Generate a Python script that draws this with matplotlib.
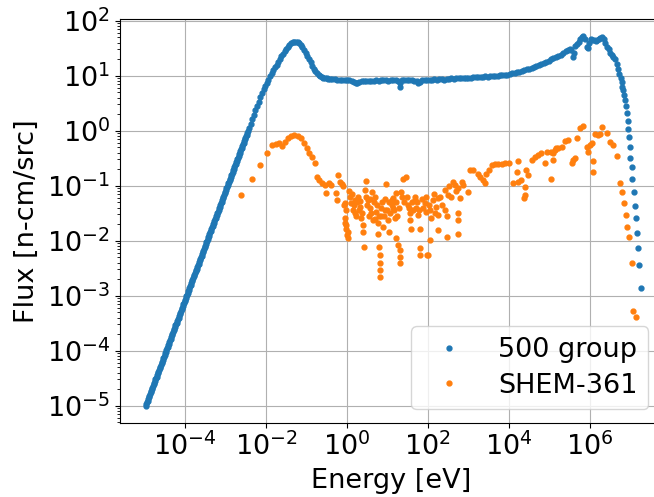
import numpy as np
import matplotlib
matplotlib.use("Agg")
import matplotlib.pyplot as plt
from matplotlib import ticker

# values are read off the log-log picture as decade exponents (log10)
# 500 group: energy exponent [log10 eV], flux exponent [log10 n-cm/src]
log_energy_500 = [
    -4.970, -4.955, -4.940, -4.925, -4.910, -4.895, -4.880, -4.865, -4.850, -4.835,
    -4.820, -4.805, -4.790, -4.775, -4.760, -4.745, -4.730, -4.715, -4.700, -4.685,
    -4.670, -4.655, -4.640, -4.625, -4.610, -4.595, -4.580, -4.565, -4.550, -4.535,
    -4.520, -4.505, -4.490, -4.475, -4.460, -4.445, -4.430, -4.415, -4.400, -4.385,
    -4.370, -4.355, -4.340, -4.325, -4.310, -4.295, -4.280, -4.265, -4.250, -4.235,
    -4.220, -4.205, -4.190, -4.175, -4.160, -4.145, -4.130, -4.115, -4.100, -4.085,
    -4.070, -4.055, -4.040, -4.025, -4.010, -3.995, -3.980, -3.965, -3.950, -3.935,
    -3.920, -3.905, -3.890, -3.875, -3.860, -3.845, -3.830, -3.815, -3.800, -3.785,
    -3.770, -3.755, -3.740, -3.725, -3.710, -3.695, -3.680, -3.665, -3.650, -3.635,
    -3.620, -3.605, -3.590, -3.575, -3.560, -3.545, -3.530, -3.515, -3.500, -3.485,
    -3.470, -3.455, -3.440, -3.425, -3.410, -3.395, -3.380, -3.365, -3.350, -3.335,
    -3.320, -3.305, -3.290, -3.275, -3.260, -3.245, -3.230, -3.215, -3.200, -3.185,
    -3.170, -3.155, -3.140, -3.125, -3.110, -3.095, -3.080, -3.065, -3.050, -3.035,
    -3.020, -3.005, -2.990, -2.975, -2.960, -2.945, -2.930, -2.915, -2.900, -2.885,
    -2.870, -2.855, -2.840, -2.825, -2.810, -2.795, -2.780, -2.765, -2.750, -2.735,
    -2.720, -2.705, -2.690, -2.675, -2.660, -2.645, -2.630, -2.615, -2.600, -2.585,
    -2.570, -2.555, -2.540, -2.525, -2.510, -2.495, -2.480, -2.465, -2.450,
    -2.42, -2.38, -2.34, -2.30, -2.26, -2.22, -2.18, -2.14, -2.10, -2.06,
    -2.02, -1.98, -1.94, -1.90, -1.86, -1.82, -1.78, -1.74, -1.70, -1.66,
    -1.62, -1.58, -1.54, -1.50, -1.46, -1.42, -1.38, -1.34, -1.30, -1.26,
    -1.22, -1.18, -1.14, -1.10, -1.06, -1.02, -0.98, -0.94, -0.90, -0.86,
    -0.82, -0.78, -0.74, -0.70, -0.66, -0.62, -0.58, -0.54, -0.50, -0.46,
    -0.42, -0.36, -0.30, -0.24, -0.18, -0.12, -0.06, 0.00, 0.06, 0.12,
    0.18, 0.22, 0.26, 0.30, 0.36, 0.42, 0.48, 0.54, 0.60, 0.66,
    0.72, 0.78, 0.84, 0.90, 0.96, 1.02, 1.08, 1.14, 1.20, 1.26,
    1.30, 1.32, 1.36, 1.42, 1.48, 1.54, 1.60, 1.66, 1.72, 1.76,
    1.80, 1.86, 1.92, 1.98, 2.04, 2.10, 2.16, 2.22, 2.28, 2.34,
    2.40, 2.46, 2.52, 2.58, 2.64, 2.70, 2.76, 2.82, 2.88, 2.94,
    3.00, 3.06, 3.12, 3.18, 3.24, 3.30, 3.36, 3.42, 3.48, 3.54,
    3.60, 3.66, 3.72, 3.78, 3.84, 3.90, 3.96, 4.02, 4.08, 4.14,
    4.20, 4.26, 4.32, 4.38, 4.44, 4.50, 4.56, 4.62, 4.68, 4.74,
    4.80, 4.86, 4.92, 4.98, 5.04, 5.10, 5.16, 5.22, 5.28, 5.34,
    5.40, 5.46, 5.50, 5.54, 5.58, 5.60, 5.64, 5.68, 5.72, 5.76,
    5.80, 5.84, 5.88, 5.92, 5.95, 5.98, 6.02, 6.06, 6.10, 6.14,
    6.18, 6.22, 6.26, 6.30, 6.34, 6.38, 6.42, 6.46, 6.50, 6.54,
    6.58, 6.62, 6.66, 6.70, 6.73, 6.76, 6.78, 6.80, 6.82, 6.84,
    6.87, 6.89, 6.91, 6.93, 6.94, 6.96, 6.99, 7.00, 7.03, 7.05,
    7.09, 7.12, 7.14, 7.17, 7.19, 7.22, 7.25,
]
log_flux_500 = [
    -5.00, -4.97, -4.94, -4.91, -4.88, -4.85, -4.82, -4.79, -4.76, -4.73,
    -4.70, -4.67, -4.64, -4.61, -4.58, -4.55, -4.52, -4.50, -4.47, -4.44,
    -4.41, -4.38, -4.35, -4.32, -4.29, -4.26, -4.23, -4.20, -4.17, -4.14,
    -4.11, -4.08, -4.05, -4.02, -3.99, -3.96, -3.93, -3.90, -3.87, -3.84,
    -3.81, -3.78, -3.75, -3.72, -3.69, -3.66, -3.63, -3.60, -3.57, -3.54,
    -3.52, -3.49, -3.46, -3.43, -3.40, -3.37, -3.34, -3.31, -3.28, -3.25,
    -3.22, -3.19, -3.16, -3.13, -3.10, -3.07, -3.04, -3.01, -2.98, -2.95,
    -2.92, -2.89, -2.86, -2.83, -2.80, -2.77, -2.74, -2.71, -2.68, -2.65,
    -2.62, -2.59, -2.56, -2.53, -2.51, -2.48, -2.45, -2.42, -2.39, -2.36,
    -2.33, -2.30, -2.27, -2.24, -2.21, -2.18, -2.15, -2.12, -2.09, -2.06,
    -2.03, -2.00, -1.97, -1.94, -1.91, -1.88, -1.85, -1.82, -1.79, -1.76,
    -1.73, -1.70, -1.67, -1.64, -1.61, -1.58, -1.55, -1.53, -1.50, -1.47,
    -1.44, -1.41, -1.38, -1.35, -1.32, -1.29, -1.26, -1.23, -1.20, -1.17,
    -1.14, -1.11, -1.08, -1.05, -1.02, -0.99, -0.96, -0.93, -0.90, -0.87,
    -0.84, -0.81, -0.78, -0.75, -0.72, -0.69, -0.66, -0.63, -0.60, -0.57,
    -0.55, -0.52, -0.49, -0.46, -0.43, -0.40, -0.37, -0.34, -0.31, -0.28,
    -0.25, -0.22, -0.19, -0.16, -0.13, -0.10, -0.07, -0.04, -0.01,
    0.05, 0.13, 0.21, 0.29, 0.37, 0.45, 0.53, 0.61, 0.68, 0.75,
    0.81, 0.87, 0.93, 0.99, 1.05, 1.10, 1.15, 1.20, 1.25, 1.30,
    1.35, 1.39, 1.44, 1.48, 1.52, 1.56, 1.59, 1.61, 1.62, 1.62,
    1.61, 1.59, 1.56, 1.52, 1.47, 1.42, 1.36, 1.30, 1.24, 1.18,
    1.13, 1.08, 1.04, 1.01, 0.99, 0.97, 0.96, 0.955, 0.95, 0.945,
    0.945, 0.94, 0.935, 0.93, 0.93, 0.925, 0.92, 0.92, 0.915, 0.90,
    0.88, 0.86, 0.87, 0.89, 0.90, 0.905, 0.91, 0.90, 0.91, 0.905,
    0.915, 0.91, 0.92, 0.915, 0.92, 0.91, 0.92, 0.915, 0.92, 0.90,
    0.80, 0.86, 0.92, 0.915, 0.92, 0.925, 0.92, 0.91, 0.90, 0.86,
    0.88, 0.92, 0.925, 0.93, 0.92, 0.93, 0.935, 0.925, 0.935, 0.94,
    0.93, 0.945, 0.94, 0.95, 0.945, 0.955, 0.95, 0.96, 0.955, 0.96,
    0.965, 0.96, 0.97, 0.975, 0.97, 0.98, 0.975, 0.985, 0.98, 0.99,
    0.995, 0.99, 1.00, 1.005, 1.01, 1.015, 1.02, 1.03, 1.04, 1.05,
    1.06, 1.07, 1.085, 1.10, 1.115, 1.13, 1.145, 1.16, 1.18, 1.20,
    1.215, 1.235, 1.255, 1.275, 1.295, 1.315, 1.34, 1.36, 1.38, 1.41,
    1.44, 1.47, 1.49, 1.46, 1.34, 1.42, 1.54, 1.58, 1.62, 1.66,
    1.70, 1.72, 1.66, 1.53, 1.50, 1.60, 1.66, 1.64, 1.65, 1.63,
    1.65, 1.66, 1.68, 1.71, 1.66, 1.59, 1.53, 1.48, 1.42, 1.38,
    1.34, 1.30, 1.22, 1.12, 1.03, 0.95, 0.88, 0.80, 0.74, 0.65,
    0.56, 0.45, 0.33, 0.18, 0.03, -0.11, -0.30, -0.50, -0.66, -0.88,
    -1.11, -1.37, -1.59, -1.86, -2.13, -2.44, -2.86,
]

# SHEM-361
log_energy_shem = [
    -2.61, -2.35, -2.14, -1.98, -1.85, -1.75, -1.68, -1.60, -1.54, -1.46,
    -1.38, -1.30, -1.21, -1.13, -1.05, -0.99, -0.93, -0.86, -0.78, -0.74,
    -0.68, -0.61, -0.55, -0.51, -0.45, -0.39, -0.23, -0.18, -0.27, -0.25,
    -0.10, -0.08, -0.04, -0.04, -0.02, 0.00,
    -0.12, -0.06, -0.035, -0.017, 0.022, 0.022, 0.11, 0.15, 0.19, 0.23,
    0.27, 0.31, 0.35, 0.39, 0.39, 0.41, 0.48, 0.44, 0.52, 0.56,
    0.63, 0.60, 0.64, 0.72, 0.76, 0.76, 0.79, 0.81, 0.81, 0.81,
    0.81, 0.85, 0.89, 0.93, 0.97, 1.01, 1.05, 1.10, 1.14, 1.18,
    1.22, 1.26, 1.30, 1.30, 1.32, 1.14, 1.22, 1.34, 1.38, 1.45,
    1.51, 1.55, 1.55, 1.59, 1.67, 1.71, 1.75, 1.80, 1.80, 1.81,
    1.92, 1.96, 2.00, 1.98, 2.04, 2.08, 2.12, 2.21, 2.25, 2.25,
    2.25, 2.41, 2.49, 2.62, 2.41, 2.46, 2.74, 2.83, 2.87, 2.99,
    2.78, 2.74, 2.74, 2.74, 2.46, 3.03, 3.11, 3.24, 3.28, 3.36,
    3.40, 3.44, 3.51, 3.57, 3.65, 3.73, 3.82, 3.90, 4.00, 4.09,
    4.19, 4.23, 4.23, 4.31, 4.39, 4.43, 4.47, 4.39, 4.37, 4.56,
    4.64, 4.72, 4.80, 4.89, 4.93, 5.05, 5.09, 5.17, 5.08, 5.05,
    5.13, 5.21, 5.30, 5.38, 5.46, 5.55, 5.59, 5.63, 5.67, 5.75,
    5.82, 5.92, 5.96, 6.00, 6.04, 6.08, 6.08, 6.12, 6.20, 6.25,
    6.31, 6.41, 6.49, 6.56, 6.66, 6.74, 6.78, 6.84, 6.88, 6.92,
    6.96, 7.03, 7.07, 7.13,
    0.06, 0.08, 0.13, 0.17, 0.20, 0.25, 0.29, 0.33, 0.37, 0.46,
    0.50, 0.54, 0.58, 0.66, 0.69, 0.70, 0.74, 0.78, 0.84, 0.87,
    0.91, 0.95, 0.99, 1.03, 1.07, 1.12, 1.16, 1.20, 1.24, 1.28,
    1.36, 1.42, 1.48, 1.53, 1.60, 1.64, 1.69, 1.73, 1.78, 1.85,
    1.88, 1.94, 2.02, 2.06, 2.15, 2.18, 2.30, 2.35, 2.52, 2.56,
    2.66, 2.70,
]
log_flux_shem = [
    -1.17, -0.88, -0.62, -0.40, -0.26, -0.24, -0.23, -0.28, -0.20, -0.14,
    -0.10, -0.08, -0.10, -0.14, -0.23, -0.32, -0.41, -0.47, -0.58, -0.85,
    -0.90, -0.95, -0.99, -1.13, -0.96, -0.99, -0.80, -0.93, -1.13, -1.26,
    -1.01, -1.35, -1.59, -1.68, -1.78, -1.90,
    -0.97, -1.32, -1.44, -1.72, -1.84, -1.96, -1.32, -1.44, -1.26, -1.56,
    -1.20, -1.38, -1.59, -1.72, -1.84, -2.11, -0.91, -1.08, -1.26, -1.41,
    -1.11, -1.50, -1.62, -1.47, -1.68, -1.87, -2.11, -2.26, -2.41, -2.53,
    -2.66, -1.56, -1.75, -1.44, -0.97, -1.62, -1.84, -1.26, -1.41, -1.59,
    -1.96, -2.08, -2.17, -2.29, -2.41, -1.23, -1.14, -1.11, -0.87, -0.85,
    -1.35, -1.50, -1.62, -1.78, -1.26, -1.41, -1.53, -1.78, -2.14, -2.26,
    -1.32, -1.47, -2.26, -2.26, -1.99, -1.59, -1.26, -1.38, -1.53, -1.23,
    -1.81, -1.08, -1.17, -0.93, -1.44, -1.56, -1.05, -0.93, -0.99, -1.11,
    -1.23, -1.50, -1.62, -1.87, -1.93, -0.72, -0.72, -0.78, -0.84, -0.90,
    -0.96, -0.78, -0.72, -0.62, -0.61, -0.61, -0.61, -0.59, -0.58, -0.96,
    -0.75, -0.56, -0.93, -0.90, -1.02, -0.72, -0.81, -1.17, -1.23, -0.53,
    -0.47, -0.44, -0.41, -0.58, -0.38, -0.87, -0.41, -0.32, -0.53, -0.38,
    -0.35, -0.32, -0.29, -0.18, -0.17, -0.59, -0.53, -0.50, -0.14, 0.04,
    0.09, -0.29, -0.38, -0.26, -0.23, -0.56, -0.76, -0.06, -0.08, -0.06,
    0.07, -0.04, -0.20, -0.26, -0.46, -0.95, -1.11, -1.31, -1.53, -1.76,
    -1.93, -2.40, -3.27, -3.38,
    -1.10, -1.20, -1.15, -1.36, -1.50, -1.30, -1.45, -1.28, -1.50, -1.20,
    -1.35, -1.55, -1.25, -1.30, -1.60, -1.20, -1.35, -1.55, -1.40, -1.30,
    -1.55, -1.25, -1.45, -1.30, -1.50, -1.35, -1.45, -1.30, -1.55, -1.40,
    -1.20, -1.30, -1.20, -1.40, -1.30, -1.45, -1.20, -1.30, -1.45, -1.25,
    -1.40, -1.20, -1.35, -1.45, -1.15, -1.50, -1.20, -1.35, -1.00, -1.20,
    -0.98, -1.10,
]

series_names = ["500 group", "SHEM-361"]
x_tick_exps = [-4, -2, 0, 2, 4, 6]
y_tick_exps = [-5, -4, -3, -2, -1, 0, 1, 2]

energy_500 = 10.0 ** np.array(log_energy_500)
flux_500 = 10.0 ** np.array(log_flux_500)
energy_shem = 10.0 ** np.array(log_energy_shem)
flux_shem = 10.0 ** np.array(log_flux_shem)

font_size = 19.5

fig = plt.figure(figsize=(6.54, 4.97), dpi=100)
ax = fig.add_axes([120 / 654, 74 / 497, 542 / 654, 404 / 497])

ax.plot(energy_500, flux_500, ".", ms=7, color="tab:blue", label=series_names[0])
ax.plot(energy_shem, flux_shem, ".", ms=7, color="tab:orange", label=series_names[1])

ax.set_xscale("log")
ax.set_yscale("log")
ax.set_xlim(10 ** -5.605, 10 ** 7.78)
ax.set_ylim(10 ** -5.315, 10 ** 2.03)

ax.xaxis.set_major_locator(ticker.FixedLocator([10.0 ** e for e in x_tick_exps]))
ax.xaxis.set_minor_locator(ticker.NullLocator())
ax.yaxis.set_major_locator(ticker.FixedLocator([10.0 ** e for e in y_tick_exps]))
ax.yaxis.set_minor_locator(ticker.LogLocator(base=10, subs=np.arange(2, 10), numticks=100))
ax.yaxis.set_minor_formatter(ticker.NullFormatter())
ax.grid(True)

ax.set_xlabel("Energy [eV]", fontsize=font_size, labelpad=5)
ax.set_ylabel("Flux [n-cm/src]", fontsize=font_size, labelpad=5)
ax.tick_params(labelsize=font_size)
ax.legend(loc="lower right", fontsize=font_size, labelspacing=0.35)

fig.savefig("out.png", dpi=100)
